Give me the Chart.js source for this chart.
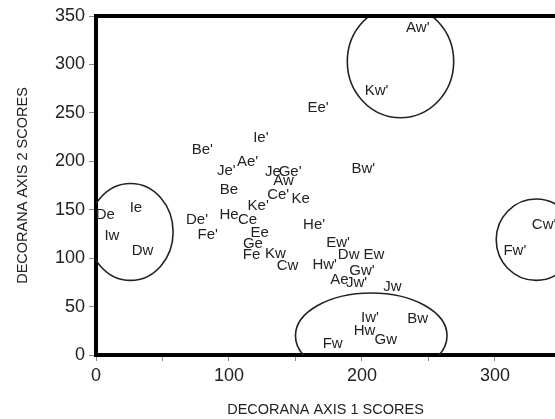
<!DOCTYPE html>
<html>
<head>
<meta charset="utf-8">
<script src="https://cdn.jsdelivr.net/npm/chart.js@4/dist/chart.umd.min.js"></script>
<style>
  html, body { margin: 0; padding: 0; background: #fff; overflow: hidden; }
  #ord { display: block; }
</style>
</head>
<body>
<canvas id="ord" width="555" height="419"></canvas>
<script>
// DECORANA ordination: sample labels and their axis scores
const siteLabels = [
  "Ee'", "Ie'", "Be'", "Ae'", "Je'", "Je", "Ge'", "Aw", "Be", "Ce'",
  "Ke", "Ke'", "He", "Ce", "De'", "Ee", "Fe'", "Ge", "Fe", "Kw",
  "Cw", "He'", "Hw'", "De", "Ie", "Iw", "Dw", "Dw", "Ew", "Ew'",
  "Gw'", "Ae", "Jw'", "Jw", "Iw'", "Bw", "Hw", "Gw", "Fw", "Aw'",
  "Kw'", "Bw'", "Cw'", "Fw'"
];
const axis1Scores = [
  167, 124, 80, 114, 98, 133, 146, 141, 100, 137,
  154, 122, 100, 114, 76, 123, 84, 118, 117, 135,
  144, 164, 172, 7, 30, 12, 35, 190, 209, 182,
  200, 183, 196, 223, 206, 242, 202, 218, 178, 242,
  211, 201, 337, 315
];
const axis2Scores = [
  255, 224, 212, 199, 190, 189, 189, 180, 170, 165,
  161, 154, 145, 140, 140, 126, 124, 115, 103, 104,
  92, 134, 93, 145, 152, 123, 108, 103, 103, 116,
  87, 78, 74, 70, 38, 37, 25, 16, 12, 338,
  273, 192, 134, 108
];

// groups circled on the plot (axis score units)
const groupCentreX = [26, 229, 207, 331];
const groupCentreY = [127, 303, 20, 119];
const groupRadiusX = [32, 40, 57, 30];
const groupRadiusY = [50, 58, 44, 42];

// tick marks along axis 1 and the ones that get a number
const xTickMarks = [0, 50, 100, 150, 200, 250, 300];
const xTickLabels = [0, 100, 200, 300];

const groupRings = {
  id: 'groupRings',
  afterDatasetsDraw(chart) {
    const { ctx, chartArea: a, scales: { x, y } } = chart;
    ctx.save();
    ctx.beginPath();
    ctx.rect(a.left, a.top, chart.width - a.left, a.bottom - a.top);
    ctx.clip();
    ctx.strokeStyle = '#222';
    ctx.lineWidth = 1.6;
    groupCentreX.forEach((cx, i) => {
      const px = x.getPixelForValue(cx);
      const py = y.getPixelForValue(groupCentreY[i]);
      const rx = Math.abs(x.getPixelForValue(cx + groupRadiusX[i]) - px);
      const ry = Math.abs(y.getPixelForValue(groupCentreY[i] + groupRadiusY[i]) - py);
      ctx.beginPath();
      ctx.ellipse(px, py, rx, ry, 0, 0, Math.PI * 2);
      ctx.stroke();
    });
    ctx.restore();

    // sample labels at each point
    ctx.save();
    ctx.fillStyle = '#222';
    ctx.font = '15px "Liberation Sans", Arial, sans-serif';
    ctx.textAlign = 'center';
    ctx.textBaseline = 'middle';
    chart.getDatasetMeta(0).data.forEach((pt, i) => {
      ctx.fillText(siteLabels[i], pt.x, pt.y);
    });
    ctx.restore();

    // heavy frame lines along the top and the bottom to the page edge
    ctx.save();
    ctx.strokeStyle = '#000';
    ctx.lineWidth = 4;
    ctx.beginPath();
    ctx.moveTo(a.left - 2, a.top);
    ctx.lineTo(chart.width, a.top);
    ctx.moveTo(a.right - 1, a.bottom);
    ctx.lineTo(chart.width, a.bottom);
    ctx.stroke();
    ctx.restore();
  }
};

Chart.defaults.font.family = '"Liberation Sans", Arial, sans-serif';
Chart.defaults.color = '#222';

new Chart(document.getElementById('ord'), {
  type: 'scatter',
  data: {
    datasets: [{
      data: axis1Scores.map((v, i) => ({ x: v, y: axis2Scores[i] })),
      pointRadius: 0,
      pointHoverRadius: 0
    }]
  },
  options: {
    responsive: false,
    animation: false,
    events: [],
    clip: false,
    layout: { padding: { top: 16, right: 0, bottom: 0, left: 0 }, autoPadding: false },
    plugins: { legend: { display: false }, tooltip: { enabled: false } },
    scales: {
      x: {
        type: 'linear',
        min: 0,
        max: 345.2,
        afterFit: (s) => { s.height = 64; },
        afterBuildTicks: (s) => { s.ticks = xTickMarks.map((v) => ({ value: v })); },
        border: { color: '#000', width: 4 },
        grid: { drawOnChartArea: false, tickLength: 6, color: '#888', tickWidth: 1 },
        ticks: {
          autoSkip: false,
          maxRotation: 0,
          padding: 4,
          font: { size: 18 },
          callback: (v) => (xTickLabels.includes(v) ? String(v) : '')
        },
        title: {
          display: true,
          text: 'DECORANA AXIS 1 SCORES',
          font: { size: 14.5 },
          padding: { top: 0, bottom: 0 }
        }
      },
      y: {
        type: 'linear',
        min: 0,
        max: 350,
        afterFit: (s) => { s.width = 96; },
        border: { color: '#000', width: 4 },
        grid: { drawOnChartArea: false, tickLength: 7, color: '#888', tickWidth: 1 },
        ticks: { stepSize: 50, autoSkip: false, padding: 4, font: { size: 18 } },
        title: {
          display: true,
          text: 'DECORANA AXIS 2 SCORES',
          font: { size: 14.5 },
          padding: { top: 14, bottom: 0 }
        }
      }
    }
  },
  plugins: [groupRings]
});
</script>
</body>
</html>
